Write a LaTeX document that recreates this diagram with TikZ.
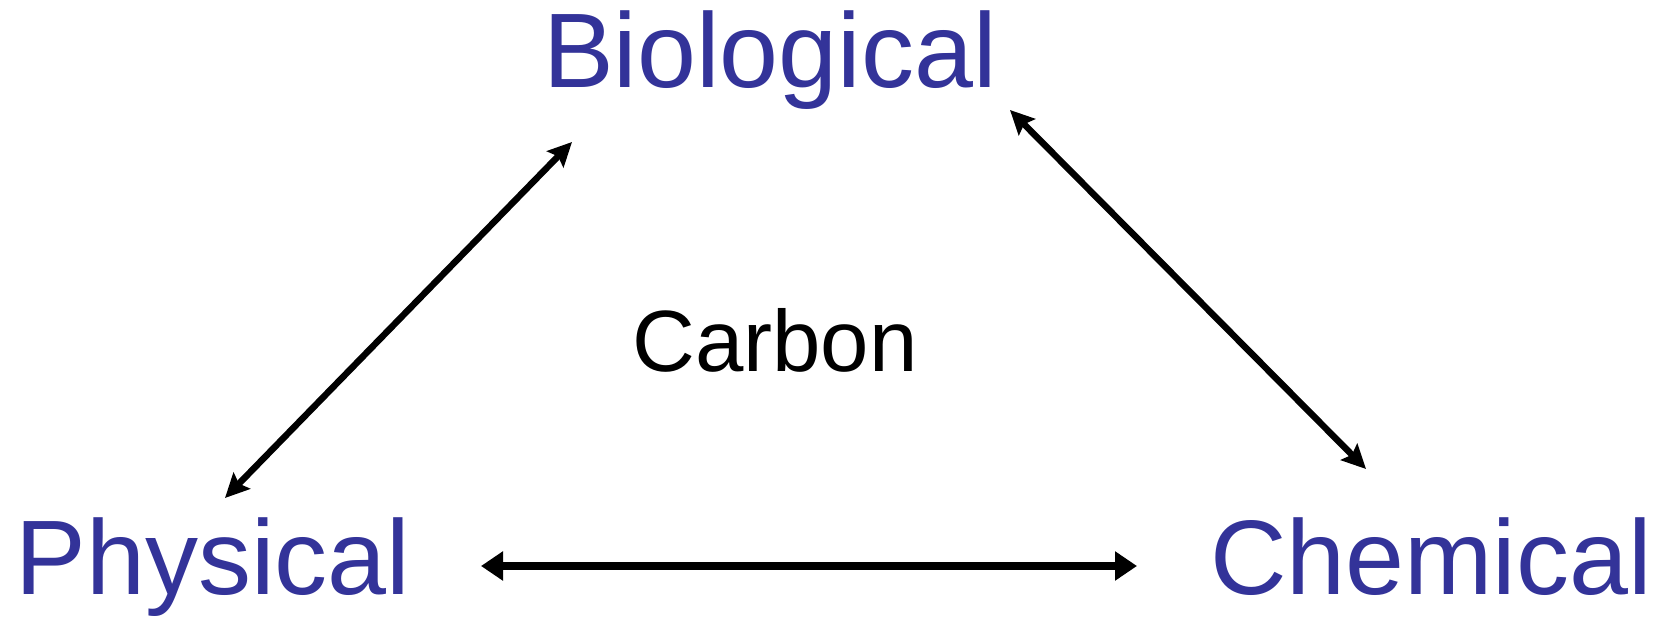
\documentclass[tikz,border=0pt]{standalone}
\usepackage{fontspec}
\setmainfont{Liberation Sans}
\usetikzlibrary{arrows.meta}
\definecolor{labelblue}{RGB}{51,51,153}
\begin{document}
\begin{tikzpicture}[x=1pt,y=-1pt,
  lbl/.style={inner sep=0pt,anchor=base,text=labelblue,font=\fontsize{106}{120}\selectfont},
  ctr/.style={inner sep=0pt,anchor=base,text=black,font=\fontsize{87}{100}\selectfont},
  diag/.style={line width=6.5pt,{Stealth[length=24pt,width=23pt,inset=4pt]}-{Stealth[length=24pt,width=23pt,inset=4pt]}},
  horiz/.style={line width=7.5pt,{Triangle[length=22pt,width=28pt]}-{Triangle[length=22pt,width=28pt]}}]
\useasboundingbox (0,0) rectangle (1670,617);
\node[lbl] (bio) at (770,88) {Biological};
\node[lbl] (phys) at (213,594) {Physical};
\node[lbl] (chem) at (1431,594) {Chemical};
\node[ctr] (carbon) at (775,372) {Carbon};
\draw[diag] ([shift={(12,-96)}]phys.base) -- ([shift={(-198,54)}]bio.base);
\draw[diag] ([shift={(240,22)}]bio.base) -- ([shift={(-65,-125)}]chem.base);
\draw[horiz] ([shift={(268,-28)}]phys.base) -- ([shift={(-294,-28)}]chem.base);
\end{tikzpicture}
\end{document}
